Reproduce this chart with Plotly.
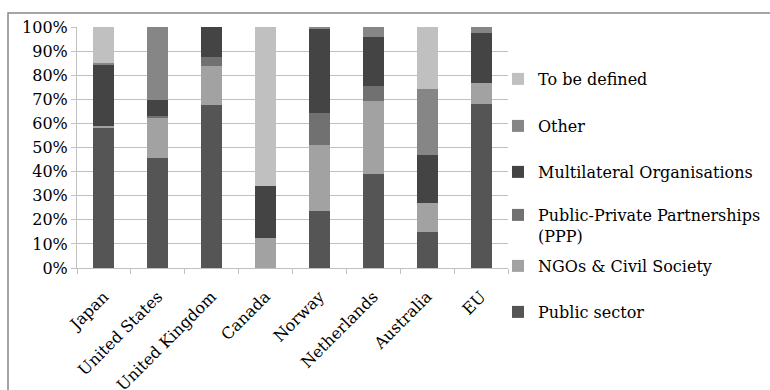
import plotly.graph_objects as go

countries = ["Japan", "United States", "United Kingdom", "Canada",
             "Norway", "Netherlands", "Australia", "EU"]

public_sector = [58.0, 45.5, 67.7, 0.0, 23.6, 39.2, 14.8, 68.0]
ngos_civil = [1.0, 17.0, 16.1, 12.3, 27.6, 30.1, 12.3, 8.7]
ppp = [0.0, 0.7, 3.8, 0.0, 13.2, 6.3, 0.0, 0.0]
multilateral = [25.5, 6.5, 12.4, 21.7, 34.6, 20.1, 19.6, 20.9]
other = [0.5, 30.3, 0.0, 0.0, 1.0, 4.3, 27.7, 2.4]
to_be_defined = [15.0, 0.0, 0.0, 66.0, 0.0, 0.0, 25.6, 0.0]

series_names = ["Public sector", "NGOs & Civil Society",
                "Public-Private Partnerships<br>(PPP)",
                "Multilateral Organisations", "Other", "To be defined"]
series_values = [public_sector, ngos_civil, ppp, multilateral, other, to_be_defined]
series_colors = ["#555555", "#a2a2a2", "#717171", "#444444", "#868686", "#c0c0c0"]

y_ticks = list(range(0, 101, 10))
y_tick_text = [f"{v}%" for v in y_ticks]

FONT = "'DejaVu Serif', 'Liberation Serif', serif"
FS = 16
W, H = 770, 390
L, R, T, B = 77, 262, 27, 122
plot_h = H - T - B
plot_w = W - L - R

# legend rows (pixel centre from top of page), top row first
legend_rows = [79, 126, 172, 225.5, 266, 312]
legend_left_px = 498

fig = go.Figure()
n = len(series_names)
for i, (name, vals, col) in enumerate(zip(series_names, series_values, series_colors)):
    row = n - 1 - i  # top legend row is the last series
    lg = "legend" if row == 0 else f"legend{row + 1}"
    fig.add_trace(go.Bar(
        x=countries, y=vals, name=name, marker_color=col,
        marker_line_width=0, legend=lg,
    ))

layout_legends = {}
for row, py in enumerate(legend_rows):
    key = "legend" if row == 0 else f"legend{row + 1}"
    layout_legends[key] = dict(
        xref="container", yref="container",
        x=legend_left_px / W, xanchor="left",
        y=1 - py / H, yanchor="middle",
        bgcolor="rgba(0,0,0,0)", borderwidth=0,
        font=dict(family=FONT, size=FS, color="#000000"),
        itemwidth=30, valign="top",
    )

fig.update_layout(
    width=W, height=H,
    margin=dict(l=L, r=R, t=T, b=B, autoexpand=False),
    paper_bgcolor="white", plot_bgcolor="white",
    showlegend=True,
    barmode="stack", bargap=0.61,
    font=dict(family=FONT, size=FS, color="#000000"),
    xaxis=dict(
        type="category", tickangle=-45, automargin=False,
        ticks="outside", tickson="boundaries", ticklen=5,
        tickcolor="#c0c0c0", showline=True, linecolor="#c0c0c0",
        showgrid=False, tickfont=dict(family=FONT, size=FS),
        ticklabelstandoff=12,
    ),
    yaxis=dict(
        range=[0, 100], tickvals=y_ticks, ticktext=y_tick_text,
        automargin=False,
        ticks="outside", ticklen=5, tickcolor="#c0c0c0",
        showline=True, linecolor="#c0c0c0",
        showgrid=True, gridcolor="#c0c0c0", gridwidth=1,
        zeroline=False, tickfont=dict(family=FONT, size=FS),
    ),
    **layout_legends,
)

# chart-area frame
fig.add_shape(
    type="rect", xref="paper", yref="paper",
    x0=(8 - L) / plot_w, x1=(W + 20 - L) / plot_w,
    y0=(H - B - (H + 20)) / plot_h, y1=(H - B - 13) / plot_h,
    line=dict(color="#888888", width=1.5), fillcolor="rgba(0,0,0,0)",
    layer="below",
)

fig.write_html("out.html")
